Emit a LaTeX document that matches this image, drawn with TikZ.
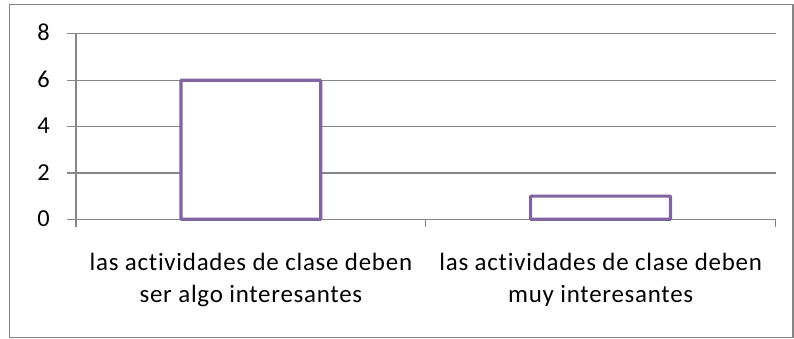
\documentclass[tikz,border=0pt]{standalone}
\usepackage{fontspec}
\setmainfont{Carlito}[LetterSpace=3,Ligatures={NoCommon}]
\newfontfamily\digitfont{Carlito}
\definecolor{gridgray}{HTML}{868686}
\definecolor{barpurple}{HTML}{8064A2}
\begin{document}
\begin{tikzpicture}[x=0.75pt,y=-0.75pt,
  grid/.style={draw=gridgray,line width=1pt},
  axis/.style={draw=gridgray,line width=1pt},
  bar/.style={draw=barpurple,line width=2.4pt,fill=white,rounded corners=0.6pt},
  ylab/.style={anchor=base east,inner sep=0pt,font=\digitfont\fontsize{18.3}{20}\selectfont,text=black},
  catlab/.style={anchor=base,inner sep=0pt,align=center,font=\fontsize{18.7}{24}\selectfont,text=black}]
\useasboundingbox (0,0) rectangle (794,339);
\draw[draw=gridgray,line width=1.1pt] (9.5,4.5) rectangle (793,337.5);
% gridlines
\foreach \v/\yy in {2/173.0,4/126.7,6/80.3,8/33.7}{
  \draw[grid] (76,\yy) -- (775.7,\yy);
}
% ticks and labels
\foreach \v/\yy in {0/219.3,2/173.0,4/126.7,6/80.3,8/33.7}{
  \draw[axis] (67,\yy) -- (76,\yy);
  \node[ylab] (y\v) at (50,\yy+7) {\v};
}
\coordinate (o) at (76,219.3);
\coordinate (ytop) at (76,33.7);
\coordinate (ybot) at (76,227);
\coordinate (xend) at (775.7,219.3);
\draw[axis] (ytop) -- (ybot);
\draw[axis] (o) -- (xend);
\draw[axis] (425.7,219.3) -- (425.7,227);
\draw[axis] (775.7,219.3) -- (775.7,227);
% bars
\draw[bar] (180.9,219.3) rectangle (320.8,80.3);
\draw[bar] (530.6,219.3) rectangle (670.5,196.1);
% labels
\node[catlab] (c1) at (250.9,302.5) {las actividades de clase deben\\ser algo interesantes};
\node[catlab] (c2) at (600.7,302.5) {las actividades de clase deben\\muy interesantes};
\end{tikzpicture}
\end{document}
